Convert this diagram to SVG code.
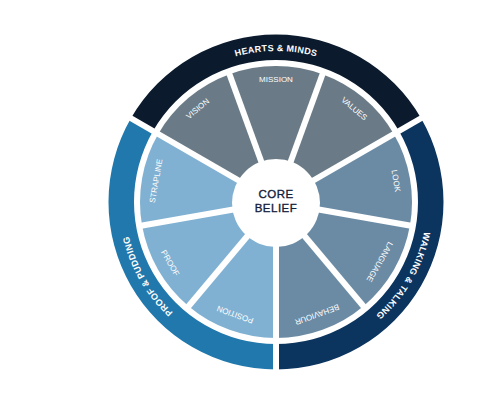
<svg xmlns="http://www.w3.org/2000/svg" width="480" height="400" viewBox="0 0 480 400">
<style>
.seg-top{fill:#6a7b87}
.seg-right{fill:#6b8ba4}
.seg-left{fill:#80b1d2}
.lbl{font-family:"Liberation Sans",Arial,sans-serif;font-size:8px;fill:#ffffff;text-anchor:middle}
.ring-lbl{font-family:"Liberation Sans",Arial,sans-serif;font-size:9px;font-weight:bold;fill:#ffffff;letter-spacing:0.3px}
.sep{stroke:#ffffff;stroke-width:6;stroke-linecap:butt}
.core{font-family:"Liberation Sans",Arial,sans-serif;font-size:11.5px;fill:#13203a;stroke:#13203a;stroke-width:0.35;text-anchor:middle;letter-spacing:0.5px}
</style>
<defs>
<path id="arcTop" d="M 125 202 A 151 151 0 0 1 427 202"/>
<path id="arcRight" d="M 351.5 71.23 A 151 151 0 0 1 200.5 332.77"/>
<path id="arcLeft" d="M 351.5 332.77 A 151 151 0 0 1 200.5 71.23"/>
</defs>
<rect width="480" height="400" fill="#ffffff"/>

<g id="ring-hearts-minds">
<path d="M 130.94 118.25 A 167.5 167.5 0 0 1 421.06 118.25 L 398.97 131 A 142 142 0 0 0 153.03 131 Z" fill="#0b1b2d"/>
<text class="ring-lbl"><textPath href="#arcTop" startOffset="50%" text-anchor="middle">HEARTS &amp; MINDS</textPath></text>
</g>
<g id="ring-walking-talking">
<path d="M 421.06 118.25 A 167.5 167.5 0 0 1 276 369.5 L 276 344 A 142 142 0 0 0 398.97 131 Z" fill="#0b355f"/>
<text class="ring-lbl"><textPath href="#arcRight" startOffset="50%" text-anchor="middle">WALKING &amp; TALKING</textPath></text>
</g>
<g id="ring-proof-pudding">
<path d="M 276 369.5 A 167.5 167.5 0 0 1 130.94 118.25 L 153.03 131 A 142 142 0 0 0 276 344 Z" fill="#2178ad"/>
<text class="ring-lbl"><textPath href="#arcLeft" startOffset="50%" text-anchor="middle">PROOF &amp; PUDDING</textPath></text>
</g>

<g id="seg-vision">
<path class="seg-top" d="M 276 202 L 158.22 134 A 136 136 0 0 1 229.49 74.2 Z"/>
<text class="lbl" x="197.58" y="108.55" dy="0.36em" transform="rotate(-40 197.58 108.55)">VISION</text>
</g>
<g id="seg-mission">
<path class="seg-top" d="M 276 202 L 229.49 74.2 A 136 136 0 0 1 322.51 74.2 Z"/>
<text class="lbl" x="276" y="79" dy="0.36em">MISSION</text>
</g>
<g id="seg-values">
<path class="seg-top" d="M 276 202 L 322.51 74.2 A 136 136 0 0 1 393.78 134 Z"/>
<text class="lbl" x="354.42" y="108.55" dy="0.36em" transform="rotate(40 354.42 108.55)">VALUES</text>
</g>
<g id="seg-look">
<path class="seg-right" d="M 276 202 L 393.78 134 A 136 136 0 0 1 409.93 225.61 Z"/>
<text class="lbl" x="396.15" y="180.82" dy="0.36em" transform="rotate(80 396.15 180.82)">LOOK</text>
</g>
<g id="seg-language">
<path class="seg-right" d="M 276 202 L 409.93 225.61 A 136 136 0 0 1 363.42 306.18 Z"/>
<text class="lbl" x="379.92" y="262" dy="0.36em" transform="rotate(120 379.92 262)">LANGUAGE</text>
</g>
<g id="seg-behaviour">
<path class="seg-right" d="M 276 202 L 363.42 306.18 A 136 136 0 0 1 276 338 Z"/>
<text class="lbl" x="317.04" y="314.76" dy="0.36em" transform="rotate(160 317.04 314.76)">BEHAVIOUR</text>
</g>
<g id="seg-position">
<path class="seg-left" d="M 276 202 L 276 338 A 136 136 0 0 1 188.58 306.18 Z"/>
<text class="lbl" x="234.96" y="314.76" dy="0.36em" transform="rotate(200 234.96 314.76)">POSITION</text>
</g>
<g id="seg-proof">
<path class="seg-left" d="M 276 202 L 188.58 306.18 A 136 136 0 0 1 142.07 225.61 Z"/>
<text class="lbl" x="170.35" y="263" dy="0.36em" transform="rotate(60 170.35 263)">PROOF</text>
</g>
<g id="seg-strapline">
<path class="seg-left" d="M 276 202 L 142.07 225.61 A 136 136 0 0 1 158.22 134 Z"/>
<text class="lbl" x="155.85" y="180.82" dy="0.36em" transform="rotate(-80 155.85 180.82)">STRAPLINE</text>
</g>

<g id="separators">
<line class="sep" x1="276" y1="202" x2="424.96" y2="116"/>
<line class="sep" x1="276" y1="202" x2="276" y2="374"/>
<line class="sep" x1="276" y1="202" x2="127.04" y2="116"/>
<line class="sep" x1="276" y1="202" x2="413.87" y2="226.31"/>
<line class="sep" x1="276" y1="202" x2="365.99" y2="309.24"/>
<line class="sep" x1="276" y1="202" x2="186.01" y2="309.24"/>
<line class="sep" x1="276" y1="202" x2="138.13" y2="226.31"/>
<line class="sep" x1="276" y1="202" x2="228.12" y2="70.44"/>
<line class="sep" x1="276" y1="202" x2="323.88" y2="70.44"/>
</g>

<g id="core-belief">
<circle cx="276" cy="203" r="44" fill="#ffffff"/>
<text class="core" x="276" y="197.5">CORE</text>
<text class="core" x="276" y="211.5">BELIEF</text>
</g>
</svg>
